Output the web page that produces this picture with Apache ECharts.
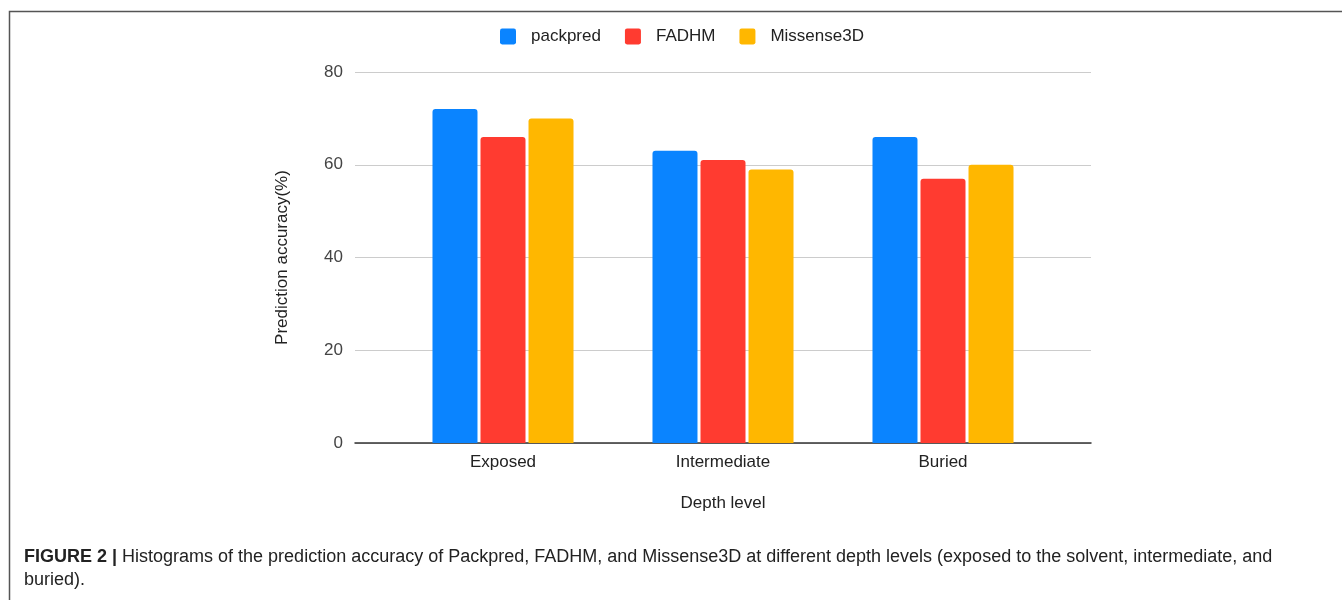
<!DOCTYPE html>
<html>
<head>
<meta charset="utf-8">
<script src="https://cdn.jsdelivr.net/npm/echarts@6/dist/echarts.min.js"></script>
<style>
html,body{margin:0;padding:0;background:#fff;}
#c{width:1342px;height:600px;}
</style>
</head>
<body>
<div id="c"></div>
<script>
const categories = ['Exposed', 'Intermediate', 'Buried'];
const seriesNames = ['packpred', 'FADHM', 'Missense3D'];
const packpred = [72, 63, 66];
const fadhm = [66, 61, 57];
const missense3d = [70, 59, 60];
const yTicks = [0, 20, 40, 60, 80];
const colors = ['#0A84FF', '#FF3B30', '#FFB700'];
const captionBold = 'FIGURE 2 |';
const captionLine1 = ' Histograms of the prediction accuracy of Packpred, FADHM, and Missense3D at different depth levels (exposed to the solvent, intermediate, and';
const captionLine2 = 'buried).';

const chart = echarts.init(document.getElementById('c'));
const FONT = 'Liberation Sans, Arial, sans-serif';
const values = [packpred, fadhm, missense3d];
const squareIcon = 'path://M2,0 L13,0 Q15,0 15,2 L15,13 Q15,15 13,15 L2,15 Q0,15 0,13 L0,2 Q0,0 2,0 Z';

chart.setOption({
  animation: false,
  textStyle: { fontFamily: FONT },
  color: colors,
  legend: {
    top: 23,
    left: 495,
    itemWidth: 16,
    itemHeight: 16,
    itemGap: 24,
    icon: squareIcon,
    textStyle: { fontSize: 17, color: '#222', fontFamily: FONT, padding: [0, 0, 0, 10] },
    data: seriesNames
  },
  grid: [
    { left: 355, right: 251, top: 72, bottom: 157 },
    { left: 393, width: 660, top: 72, bottom: 157 }
  ],
  xAxis: [
    {
      type: 'value', gridIndex: 0, min: 0, max: 1,
      axisLabel: { show: false }, axisTick: { show: false }, splitLine: { show: false },
      axisLine: { show: true, onZero: false, lineStyle: { color: '#333', width: 1.5 } }
    },
    {
      type: 'category', gridIndex: 1, data: categories,
      axisLine: { show: false }, axisTick: { show: false },
      axisLabel: { fontSize: 17, color: '#222', margin: 11, fontFamily: FONT },
      name: 'Depth level', nameLocation: 'middle', nameGap: 52,
      nameTextStyle: { fontSize: 17, color: '#222', fontFamily: FONT }
    }
  ],
  yAxis: [
    {
      type: 'value', gridIndex: 0, min: yTicks[0], max: yTicks[yTicks.length - 1], interval: 20,
      axisLine: { show: false }, axisTick: { show: false },
      axisLabel: { fontSize: 17, color: '#444', margin: 12, fontFamily: FONT },
      splitLine: { lineStyle: { color: '#cccccc', width: 1 } },
      name: 'Prediction accuracy(%)', nameLocation: 'middle', nameGap: 64,
      nameTextStyle: { fontSize: 17, color: '#222', fontFamily: FONT }
    },
    {
      type: 'value', gridIndex: 1, min: yTicks[0], max: yTicks[yTicks.length - 1], interval: 20,
      show: false
    }
  ],
  series: seriesNames.map((n, i) => ({
    name: n,
    type: 'bar',
    xAxisIndex: 1,
    yAxisIndex: 1,
    data: values[i],
    barWidth: 45,
    barGap: '6.7%',
    itemStyle: { color: colors[i], borderRadius: [3, 3, 0, 0] }
  })),
  graphic: [
    {
      type: 'polyline', silent: true,
      shape: { points: [[9.5, 600], [9.5, 11.5], [1342, 11.5]] },
      style: { stroke: '#555', lineWidth: 1.5, fill: null }
    },
    {
      type: 'text', left: 24, top: 548,
      style: {
        rich: {
          b: { fontWeight: 'bold', fontSize: 18, fontFamily: FONT, fill: '#222' },
          n: { fontSize: 18, fontFamily: FONT, fill: '#222' }
        },
        text: '{b|' + captionBold + '}{n|' + captionLine1 + '}'
      }
    },
    {
      type: 'text', left: 24, top: 571,
      style: { text: captionLine2, fontSize: 18, fontFamily: FONT, fill: '#222' }
    }
  ]
});
</script>
</body>
</html>
